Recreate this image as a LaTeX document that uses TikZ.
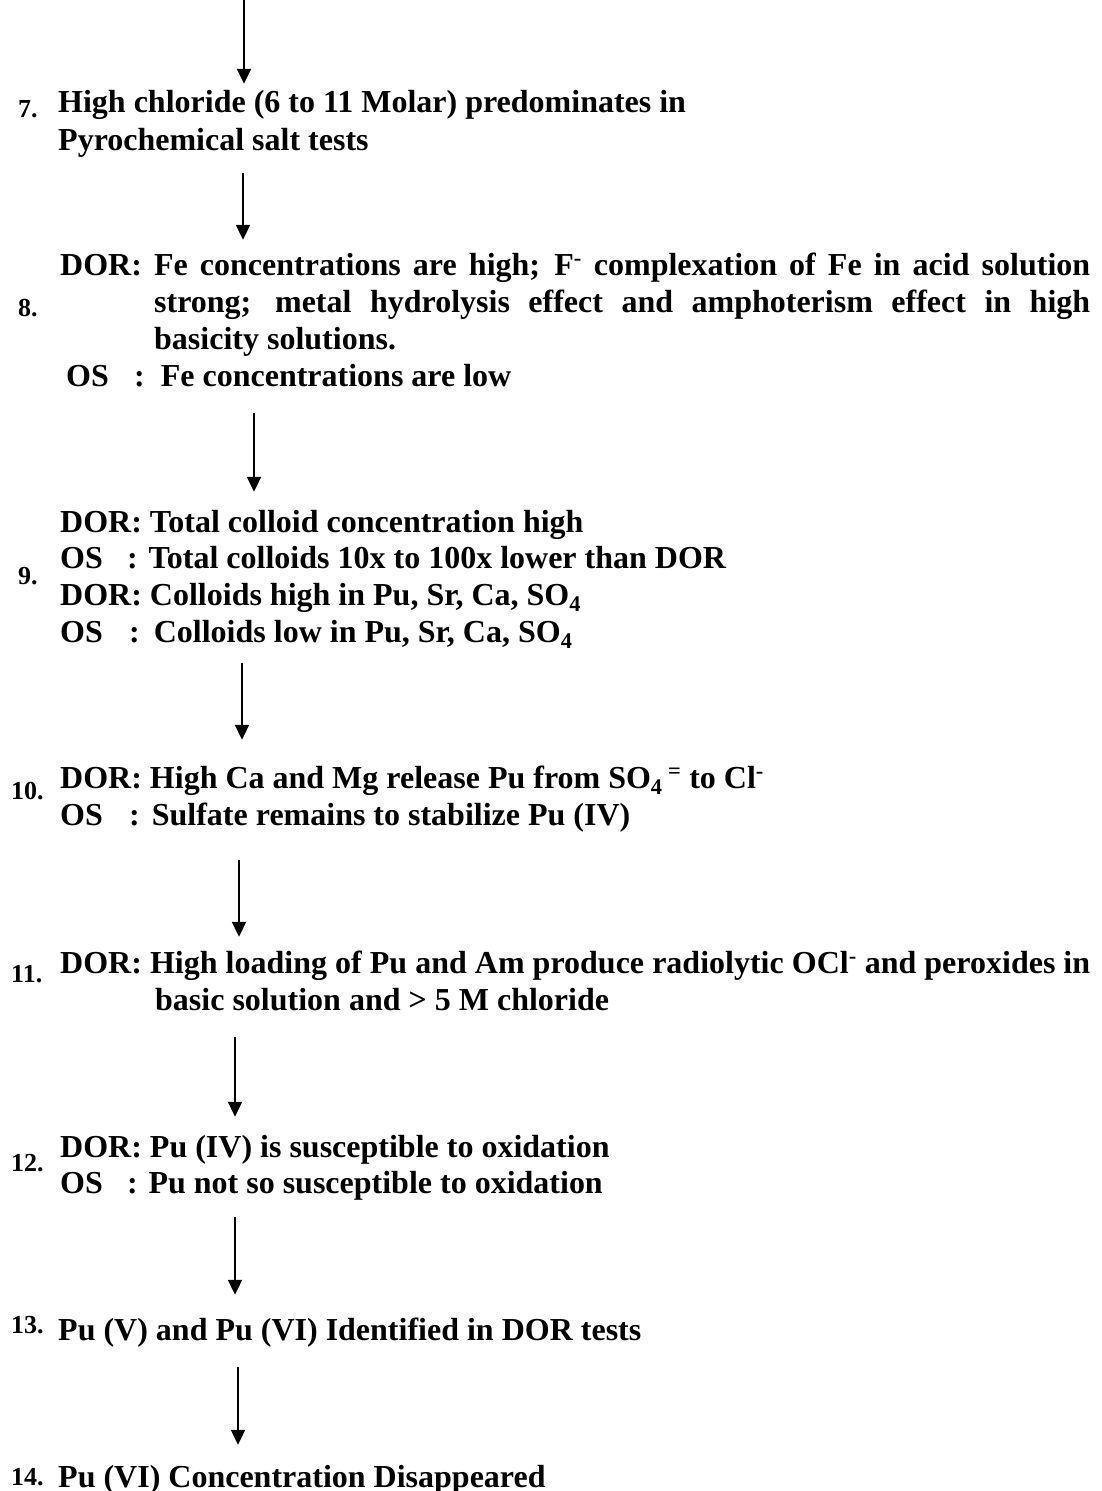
\documentclass[tikz,border=0pt]{standalone}
\usepackage{fontspec}
\setmainfont{Liberation Serif}
\usetikzlibrary{arrows.meta}
\tikzset{
  txt/.style={anchor=base west,inner sep=0pt,text height=24pt,text depth=8pt,font=\bfseries\fontsize{32}{37}\selectfont},
  num/.style={anchor=base west,inner sep=0pt,font=\bfseries\fontsize{26}{30}\selectfont},
  flow/.style={-{Triangle[length=15pt,width=14pt]},line width=2pt}
}
\newcommand{\oslab}[1]{\makebox[#1][l]{OS}:}

\begin{document}
\begin{tikzpicture}[x=1pt,y=-1pt]
\useasboundingbox (0,0) rectangle (1101,1491);
\foreach \n/\x in {1/244,2/243,3/254,4/242,5/239,6/235,7/235,8/238}
  \coordinate (ax\n) at (\x,0);

\node[num] (n7) at (18,117) {7.};
\node[txt] (t7a) at (58,112) {High chloride (6 to 11 Molar) predominates in};
\node[txt] (t7b) at (58,150) {Pyrochemical salt tests};

\node[num] (n8) at (18,316) {8.};
\node[txt] (t8a) at (60,275) {\makebox[1030pt][s]{DOR: Fe concentrations are high; F\textsuperscript{-} complexation of Fe in acid solution}};
\node[txt] (t8b) at (154,312) {\makebox[936pt][s]{strong; metal hydrolysis effect and amphoterism effect in high}};
\node[txt] (t8c) at (154,349) {basicity solutions.};
\node[txt] (t8d) at (66,386) {\oslab{68pt}\hspace{16pt}Fe concentrations are low};

\node[num] (n9) at (18,584) {9.};
\node[txt] (t9a) at (60,532) {DOR: Total colloid concentration high};
\node[txt] (t9b) at (60,568) {\oslab{67pt} Total colloids 10x to 100x lower than DOR};
\node[txt] (t9c) at (60,605) {DOR: Colloids high in Pu, Sr, Ca, SO\textsubscript{4}};
\node[txt] (t9d) at (60,642) {\oslab{69pt}\hspace{14pt}Colloids low in Pu, Sr, Ca, SO\textsubscript{4}};

\node[num] (n10) at (11,799) {10.};
\node[txt] (t10a) at (60,788) {DOR: High Ca and Mg release Pu from SO\textsubscript{4}\,\textsuperscript{=} to Cl\textsuperscript{-}};
\node[txt] (t10b) at (60,825) {\oslab{69pt}\hspace{12pt}Sulfate remains to stabilize Pu (IV)};

\node[num] (n11) at (11,982) {11.};
\node[txt] (t11a) at (60,973) {\makebox[1030pt][s]{DOR: High loading of Pu and Am produce radiolytic OCl\textsuperscript{-} and peroxides in}};
\node[txt] (t11b) at (155,1010) {basic solution and > 5 M chloride};

\node[num] (n12) at (11,1171) {12.};
\node[txt] (t12a) at (60,1157) {DOR: Pu (IV) is susceptible to oxidation};
\node[txt] (t12b) at (60,1193) {\oslab{67pt} Pu not so susceptible to oxidation};

\node[num] (n13) at (11,1333) {13.};
\node[txt] (t13) at (58,1340) {Pu (V) and Pu (VI) Identified in DOR tests};

\node[num] (n14) at (11,1485) {14.};
\node[txt] (t14) at (58,1487) {Pu (VI) Concentration Disappeared};

\draw[flow,shorten >=4pt] (ax1) -- (ax1 |- t7a.north);
\draw[flow,shorten <=15pt,shorten >=11pt] (ax2 |- t7b.south) -- (ax2 |- t8a.north);
\draw[flow,shorten <=19pt,shorten >=16pt] (ax3 |- t8d.south) -- (ax3 |- t9a.north);
\draw[flow,shorten <=13pt,shorten >=24pt] (ax4 |- t9d.south) -- (ax4 |- t10a.north);
\draw[flow,shorten <=27pt,shorten >=12pt] (ax5 |- t10b.south) -- (ax5 |- t11a.north);
\draw[flow,shorten <=19pt,shorten >=16pt] (ax6 |- t11b.south) -- (ax6 |- t12a.north);
\draw[flow,shorten <=16pt,shorten >=21pt] (ax7 |- t12b.south) -- (ax7 |- t13.north);
\draw[flow,shorten <=19pt,shorten >=18pt] (ax8 |- t13.south) -- (ax8 |- t14.north);
\end{tikzpicture}
\end{document}
